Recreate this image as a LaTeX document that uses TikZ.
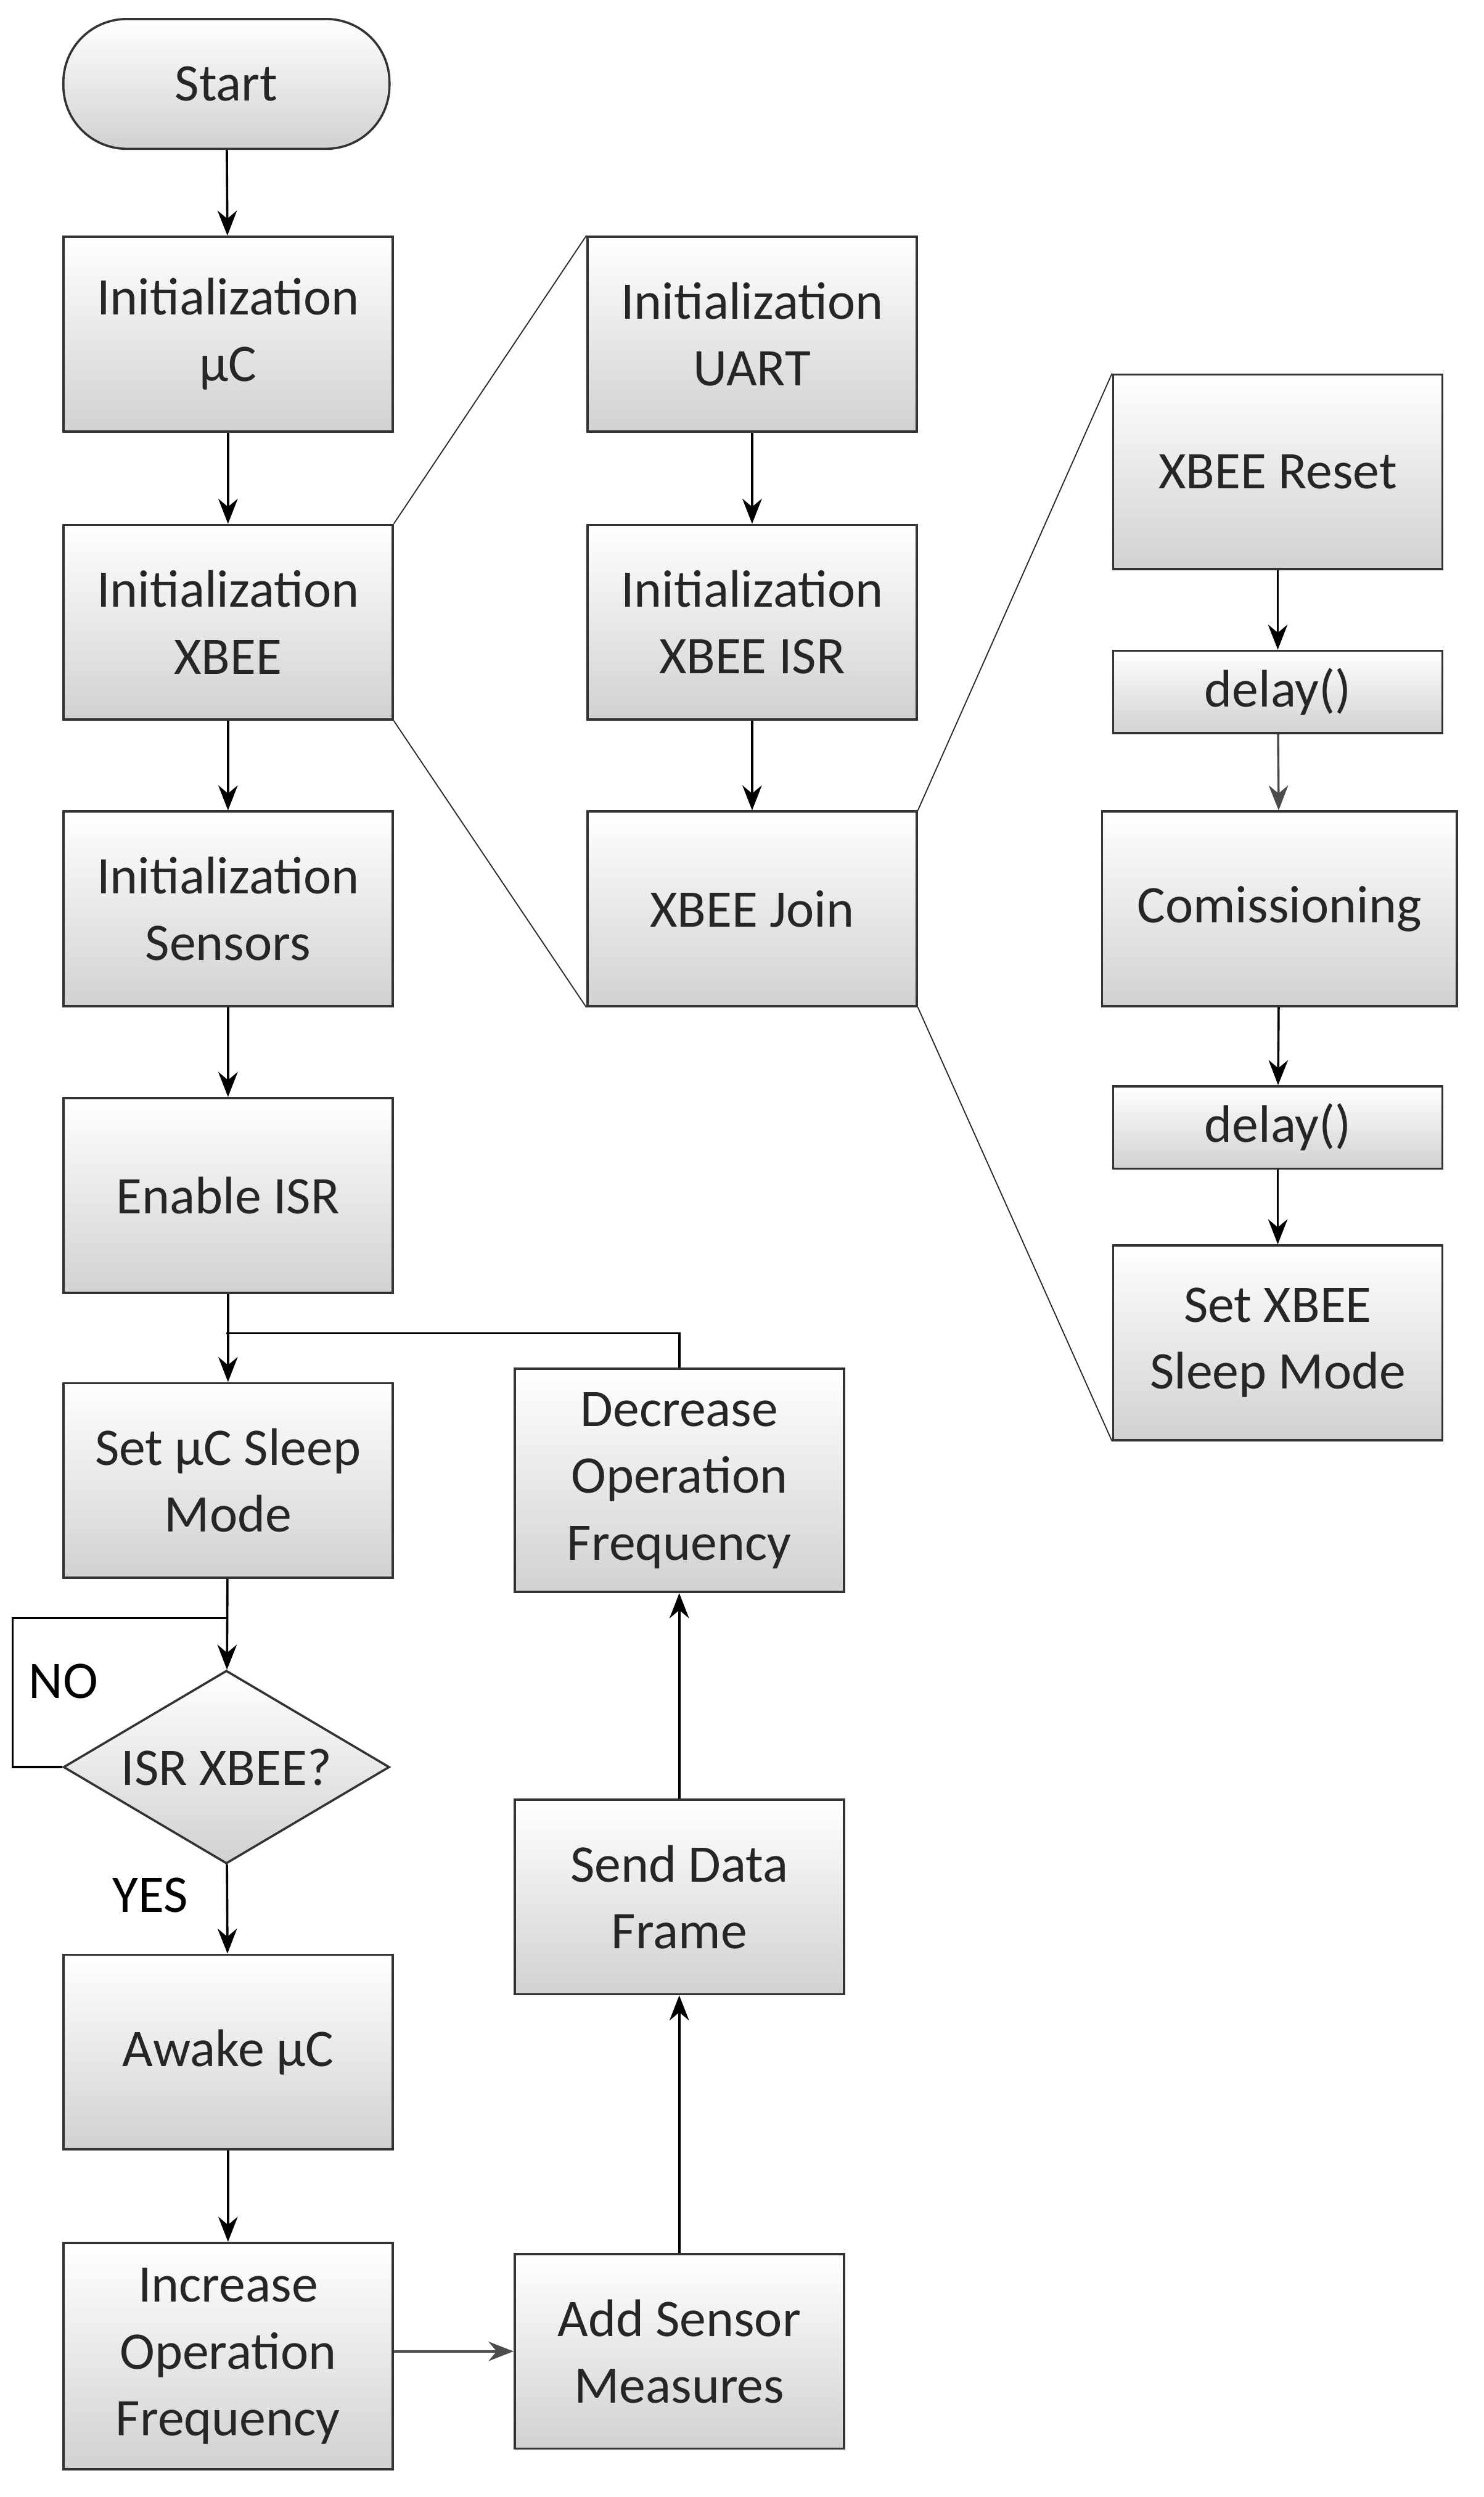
\documentclass[tikz,border=0pt]{standalone}
\usepackage{fontspec}
\setmainfont{Carlito}
\usetikzlibrary{arrows.meta,shapes.geometric}
\begin{document}
\begin{tikzpicture}[x=0.02cm,y=-0.02cm,
  box/.style={draw=black!80,thick,top color=white,bottom color=black!18,
    minimum width=4.16cm,minimum height=2.46cm,inner sep=2pt,align=center,
    font=\fontsize{19}{24}\selectfont,text=black!85},
  small/.style={box,minimum height=1.04cm},
  arr/.style={thick,-{Stealth[length=9pt,width=7pt]}},
  ln/.style={thin,black!85}]
\useasboundingbox (0,0) rectangle (937,1577);
\node[box,rounded corners=0.8cm,minimum height=1.64cm,minimum width=4.12cm] (start) at (143,53) {Start};
\node[box] (iuc) at (144,211) {Initialization\\µC};
\node[box] (ixb) at (144,393) {Initialization\\XBEE};
\node[box] (isen) at (144,574) {Initialization\\Sensors};
\node[box] (eisr) at (144,755) {Enable ISR};
\node[box] (sleep) at (144,935) {Set µC Sleep\\Mode};
\node[box,diamond,aspect=1.68,minimum width=4.12cm,minimum height=2.44cm,inner sep=0pt] (dia) at (143,1116) {ISR XBEE?};
\node[box] (awake) at (144,1296) {Awake µC};
\node[box,minimum height=2.86cm] (inc) at (144,1488) {Increase\\Operation\\Frequency};
\node[box] (add) at (429,1485) {Add Sensor\\Measures};
\node[box] (send) at (429,1198) {Send Data\\Frame};
\node[box,minimum height=2.82cm] (dec) at (429,935) {Decrease\\Operation\\Frequency};
\node[box] (uart) at (475,211) {Initialization\\UART};
\node[box] (xisr) at (475,393) {Initialization\\XBEE ISR};
\node[box] (join) at (475,574) {XBEE Join};
\node[box] (reset) at (807,298) {XBEE Reset};
\node[small] (d1) at (807,437) {delay()};
\node[box,minimum width=4.48cm] (com) at (808,574) {Comissioning};
\node[small] (d2) at (807,712) {delay()};
\node[box] (xsleep) at (807,848) {Set XBEE\\Sleep Mode};
\coordinate (fb) at (143,842);
\coordinate (nl) at (143,1022);
\node[font=\fontsize{19}{24}\selectfont] (no) at (40,1062) {NO};
\node[font=\fontsize{19}{24}\selectfont] (yes) at (95,1197) {YES};
\draw[arr] (start) -- (iuc);
\draw[arr] (iuc) -- (ixb);
\draw[arr] (ixb) -- (isen);
\draw[arr] (isen) -- (eisr);
\draw[arr] (eisr) -- (sleep);
\draw[arr] (sleep) -- (dia);
\draw[arr] (dia) -- (awake);
\draw[arr] (awake) -- (inc);
\draw[arr,black!70] (inc.east |- add) -- (add);
\draw[arr] (add) -- (send);
\draw[arr] (send) -- (dec);
\draw[thick] (dec.north) |- (fb);
\draw[thick] (dia.west) -- (8,1116) |- (nl);
\draw[arr] (uart) -- (xisr);
\draw[arr] (xisr) -- (join);
\draw[arr] (reset) -- (d1);
\draw[arr,black!70] (d1) -- (com);
\draw[arr] (com) -- (d2);
\draw[arr] (d2) -- (xsleep);
\draw[ln] (ixb.north east) -- (uart.north west);
\draw[ln] (ixb.south east) -- (join.south west);
\draw[ln] (join.north east) -- (reset.north west);
\draw[ln] (join.south east) -- (xsleep.south west);
\end{tikzpicture}
\end{document}
